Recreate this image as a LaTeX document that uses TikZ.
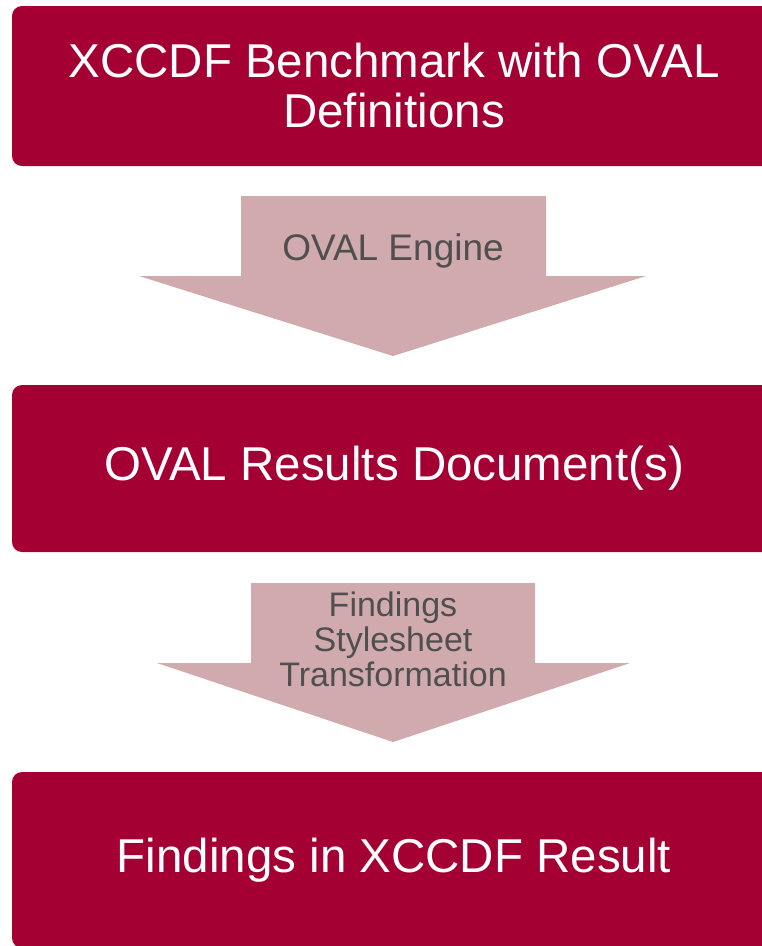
\documentclass[tikz,border=0pt]{standalone}
\usepackage{fontspec}
\setmainfont{Liberation Sans}
\definecolor{boxred}{HTML}{A50034}
\definecolor{arrowpink}{HTML}{D1AAAE}
\definecolor{labelgrey}{HTML}{4F4F4F}
\begin{document}
\begin{tikzpicture}[x=1pt,y=-1pt,
  stagebox/.style={fill=boxred,draw=none,rounded corners=10pt,minimum width=764pt,
    text=white,font=\fontsize{47.5}{50}\selectfont,align=center,inner sep=0pt},
  flowarrow/.style={fill=arrowpink,draw=none},
  flowlabel/.style={text=labelgrey,align=center,inner sep=0pt}]
\useasboundingbox (0,0) rectangle (762,946);
\clip (0,0) rectangle (762,946);
% three process stages
\node[stagebox,minimum height=160pt] (bench) at (394,86)
  {XCCDF Benchmark with OVAL\\Definitions};
\node[stagebox,minimum height=167pt] (ovalres) at (394,468.5)
  {OVAL Results Document(s)};
\node[stagebox,minimum height=176pt] (findings) at (394,860)
  {Findings in XCCDF Result};
% block arrows between stages
\fill[flowarrow] (241,196) -- (546,196) -- (546,276) -- (646,276) -- (393,356)
  -- (139,276) -- (241,276) -- cycle;
\node[flowlabel,font=\fontsize{37}{39}\selectfont] (engine) at (393,251) {OVAL Engine};
\fill[flowarrow] (251,583) -- (535,583) -- (535,663) -- (630,663) -- (393,742)
  -- (157,663) -- (251,663) -- cycle;
\node[flowlabel,font=\fontsize{34}{35}\selectfont] (xslt) at (393,639)
  {Findings\\Stylesheet\\Transformation};
\end{tikzpicture}
\end{document}
